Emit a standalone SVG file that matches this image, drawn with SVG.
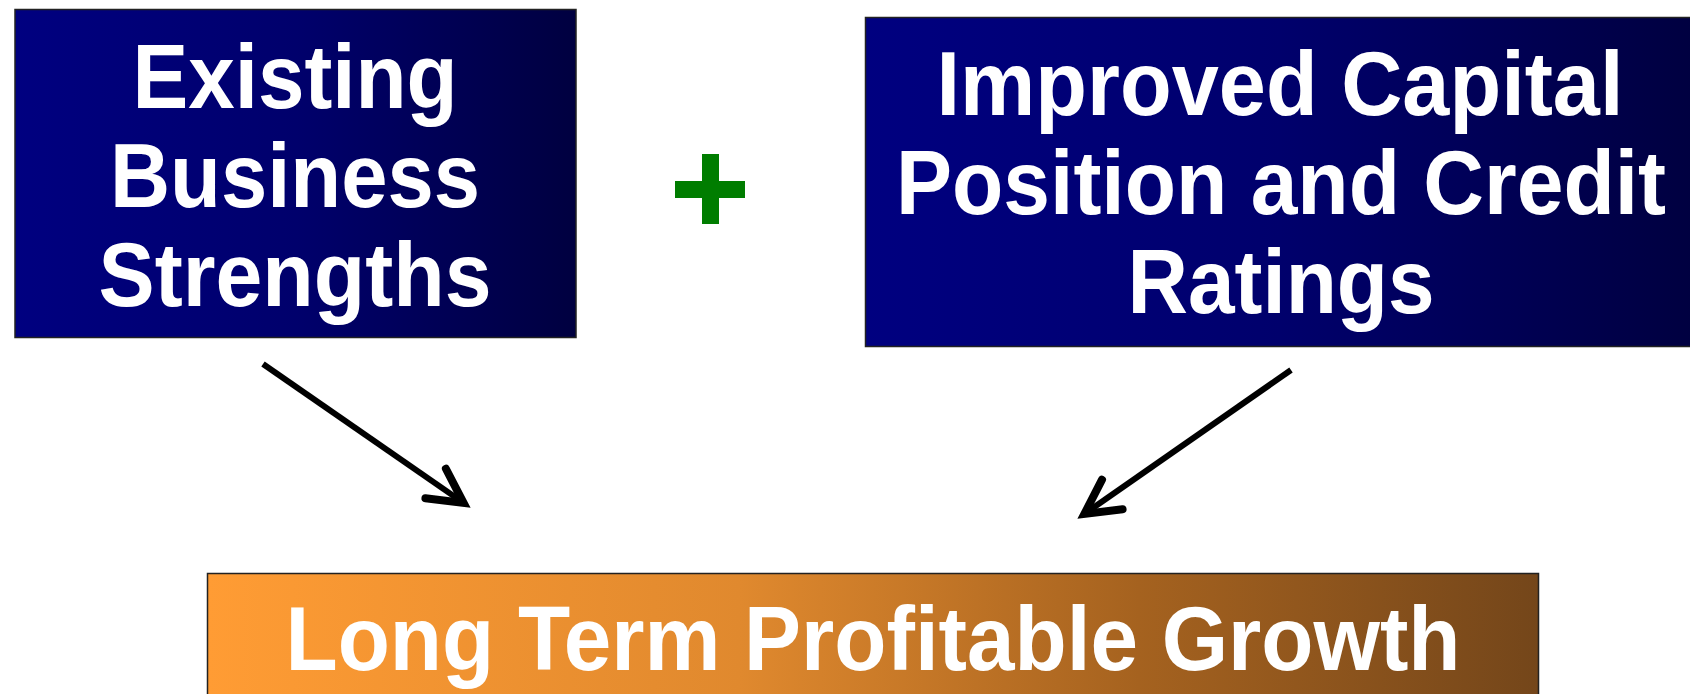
<svg xmlns="http://www.w3.org/2000/svg" width="1690" height="694" viewBox="0 0 1690 694">
<style>
.t{font-family:"Liberation Sans",Arial,Helvetica,sans-serif;font-weight:bold;font-size:90px;fill:#fff;text-anchor:middle}
.c{fill:none;stroke:#000;stroke-width:6}
</style>
<defs>
<linearGradient id="blue" x1="0" y1="0" x2="1" y2="0">
<stop offset="0" stop-color="#000080"/>
<stop offset="0.5" stop-color="#00006c"/>
<stop offset="1" stop-color="#000040"/>
</linearGradient>
<linearGradient id="orange" x1="0" y1="0" x2="1" y2="0">
<stop offset="0" stop-color="#ff9c34"/>
<stop offset="0.4" stop-color="#e0892e"/>
<stop offset="0.7" stop-color="#a5621f"/>
<stop offset="1" stop-color="#74461a"/>
</linearGradient>
<marker id="ah" markerUnits="userSpaceOnUse" markerWidth="100" markerHeight="100" refX="0" refY="0" orient="auto" viewBox="-60 -50 100 100" overflow="visible">
<path d="M -34 -18 L 0 0 L -34 18" fill="none" stroke="#000" stroke-width="8" stroke-linecap="round" stroke-linejoin="miter" stroke-miterlimit="6"/>
</marker>
</defs>
<rect width="1690" height="694" fill="#fff"/>
<g id="node-existing">
<rect x="15" y="9.5" width="561" height="328" fill="url(#blue)" stroke="#222" stroke-width="1.5"/>
<text class="t" x="295" y="108" textLength="325" lengthAdjust="spacingAndGlyphs">Existing</text>
<text class="t" x="295" y="207" textLength="370" lengthAdjust="spacingAndGlyphs">Business</text>
<text class="t" x="295" y="306" textLength="393" lengthAdjust="spacingAndGlyphs">Strengths</text>
</g>
<g id="node-plus">
<rect x="702" y="154" width="17" height="70" fill="#007d00"/>
<rect x="675" y="181" width="70" height="17" fill="#007d00"/>
</g>
<g id="node-capital">
<rect x="865.5" y="17.5" width="830" height="329" fill="url(#blue)" stroke="#222" stroke-width="1.5"/>
<text class="t" x="1280" y="115" textLength="687" lengthAdjust="spacingAndGlyphs">Improved Capital</text>
<text class="t" x="1281" y="214" textLength="770" lengthAdjust="spacingAndGlyphs">Position and Credit</text>
<text class="t" x="1281" y="313" textLength="307" lengthAdjust="spacingAndGlyphs">Ratings</text>
</g>
<g id="node-growth">
<rect x="207.5" y="573.5" width="1331" height="130" fill="url(#orange)" stroke="#222" stroke-width="1.5"/>
<text class="t" x="873" y="670" textLength="1175" lengthAdjust="spacingAndGlyphs">Long Term Profitable Growth</text>
</g>
<g id="connectors">
<line class="c" x1="263" y1="364" x2="463.6" y2="502.9" marker-end="url(#ah)"/>
<line class="c" x1="1291" y1="370" x2="1084.4" y2="513.9" marker-end="url(#ah)"/>
</g>
</svg>
